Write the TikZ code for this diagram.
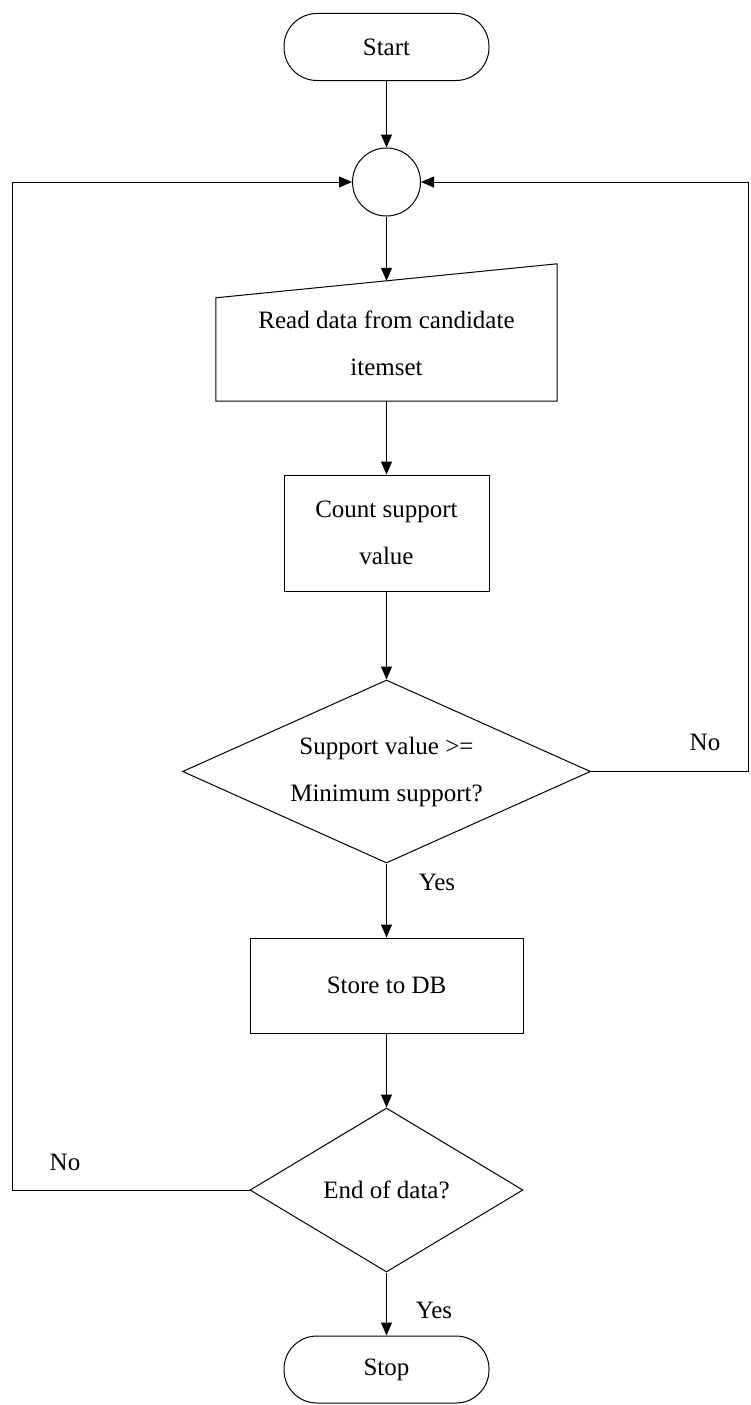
\documentclass[tikz,border=0pt]{standalone}
\usepackage{fontspec}
\setmainfont{Liberation Serif}
\usetikzlibrary{shapes.geometric,arrows.meta,calc}
\begin{document}
\begin{tikzpicture}[x=1pt,y=-1pt,
  line/.style={line width=1pt},
  flow/.style={line, -{Triangle[length=13pt,width=11pt]}},
  txt/.style={font=\fontsize{25}{47}\selectfont, align=center, inner sep=0pt},
  terminal/.style={draw, line width=1pt, rectangle, rounded corners=33pt, minimum width=205pt, minimum height=67pt, txt},
  procbox/.style={draw, line width=1pt, rectangle, txt},
  decision/.style={draw, line width=1pt, diamond, txt},
  joint/.style={draw, line width=1pt, circle, minimum size=68pt, inner sep=0pt},
  lbl/.style={font=\fontsize{25}{30}\selectfont, inner sep=0pt}]
\useasboundingbox (0,0) rectangle (750,1405);

% terminals, junction and process steps
\node[terminal] (start) at (386.5,47) {Start};
\node[joint] (join) at (386.5,182) {};

% manual input step: sloped top edge
\node[minimum width=341pt, minimum height=137pt, inner sep=0pt] (read) at (386.5,332.5) {};
\draw[line] (read.south west) -- (read.south east) -- (read.north east)
  -- ($(read.north west)+(0,34)$) -- cycle;
\coordinate (readtop) at ($(read.north)+(0,17)$);
\node[txt] (readtxt) at (386.5,343) {Read data from candidate\\itemset};

\node[procbox, minimum width=205pt, minimum height=116pt] (count) at (386.5,533) {Count support\\value};
\node[decision, shape aspect=2.2, minimum width=408pt, minimum height=183pt] (dec1) at (386.5,771.5) {Support value >=\\Minimum support?};
\node[procbox, minimum width=273pt, minimum height=95pt] (store) at (386.5,985.5) {Store to DB};
\node[decision, shape aspect=1.66, minimum width=273pt, minimum height=164pt] (dec2) at (386.5,1190) {End of data?};
\node[terminal] (stop) at (386.5,1369.5) {Stop};

% main flow
\draw[flow] (start) -- (join);
\draw[flow] (join) -- (readtop);
\draw[flow] (read.south) -- (count);
\draw[flow] (count) -- (dec1);
\draw[flow] (dec1) -- (store);
\draw[flow] (store) -- (dec2);
\draw[flow] (dec2) -- (stop);

% loop-back connectors
\coordinate (rbend) at (748,771.5);
\coordinate (lbend) at (12,1190);
\draw[flow] (dec1.east) -- (rbend) |- (join.east);
\draw[flow] (dec2.west) -- (lbend) |- (join.west);

% branch labels
\node[lbl] (no1) at (705,742) {No};
\node[lbl] (no2) at (65,1162) {No};
\node[lbl] (yes1) at (437,882) {Yes};
\node[lbl] (yes2) at (434,1310) {Yes};
\end{tikzpicture}
\end{document}
